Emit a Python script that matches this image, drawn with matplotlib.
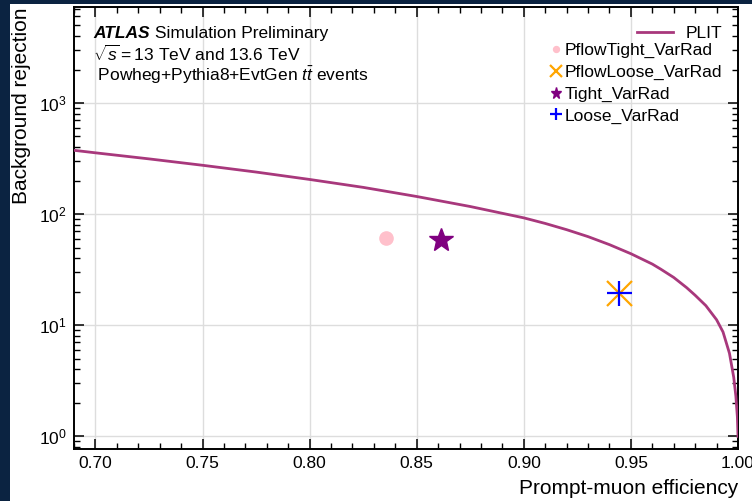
import matplotlib
matplotlib.use('Agg')
import matplotlib.pyplot as plt
from matplotlib.patches import Rectangle
from matplotlib.ticker import MultipleLocator, LogLocator

plt.rcParams['font.family'] = ['Liberation Sans', 'DejaVu Sans']
plt.rcParams['mathtext.fontset'] = 'custom'
plt.rcParams['mathtext.rm'] = 'Liberation Sans'
plt.rcParams['mathtext.it'] = 'Liberation Sans:italic'
plt.rcParams['mathtext.bf'] = 'Liberation Sans:bold'

# PLIT curve: prompt-muon efficiency vs background rejection
plit_eff = [0.69, 0.70, 0.725, 0.75, 0.775, 0.80, 0.825, 0.85, 0.875, 0.90,
            0.91, 0.92, 0.93, 0.94, 0.95, 0.96, 0.964, 0.97, 0.976, 0.98,
            0.985, 0.99, 0.993, 0.996, 0.998, 0.999, 0.9997, 1.0]
plit_rej = [375, 356, 314, 275, 239, 205, 174, 144, 117, 92.5,
            82.4, 72.4, 62.7, 53.1, 44.0, 35.5, 31.9, 26.9, 21.8, 18.6,
            15.0, 11.2, 8.7, 5.6, 3.4, 2.3, 1.5, 1.0]

# working points of the cut-based isolation
wp_names = ['PflowTight_VarRad', 'PflowLoose_VarRad', 'Tight_VarRad', 'Loose_VarRad']
wp_eff = [0.8357, 0.9445, 0.8614, 0.9445]
wp_rej = [61.3, 19.4, 58.0, 19.4]

navy = '#0b2341'

fig = plt.figure(figsize=(7.52, 5.01), dpi=100)
ax = fig.add_axes([0.0984, 0.1038, 0.883, 0.8822])

# dark frame strips on the left and top
fig.add_artist(Rectangle((0, 0), 10 / 752, 1, transform=fig.transFigure,
                         facecolor=navy, edgecolor='none', zorder=0))
fig.add_artist(Rectangle((0, 1 - 4 / 501), 1, 4 / 501, transform=fig.transFigure,
                         facecolor=navy, edgecolor='none', zorder=0))

line, = ax.plot(plit_eff, plit_rej, color='#a8387c', lw=2.0, label='PLIT', zorder=3)

m1, = ax.plot(wp_eff[0], wp_rej[0], 'o', color='pink', ms=9.5, ls='none', label=wp_names[0], zorder=4)
m2, = ax.plot(wp_eff[1], wp_rej[1], 'x', color='orange', ms=18, mew=1.6, ls='none', label=wp_names[1], zorder=4)
m3, = ax.plot(wp_eff[2], wp_rej[2], '*', color='purple', ms=18, ls='none', label=wp_names[2], zorder=4)
m4, = ax.plot(wp_eff[3], wp_rej[3], '+', color='blue', ms=18, mew=1.6, ls='none', label=wp_names[3], zorder=5)

ax.set_yscale('log')
ax.set_xlim(0.69, 1.0)
ax.set_ylim(0.77, 7300)

ax.xaxis.set_major_locator(MultipleLocator(0.05))
ax.xaxis.set_minor_locator(MultipleLocator(0.01))
ax.yaxis.set_major_locator(LogLocator(base=10))
ax.yaxis.set_minor_locator(LogLocator(base=10, subs=range(2, 10)))
ax.xaxis.set_major_formatter(plt.FuncFormatter(lambda v, p: f'{v:.2f}'))

ax.tick_params(which='both', direction='in', top=True, right=True, labelsize=12.5)
ax.tick_params(which='major', length=7.2, width=1.1, pad=5)
ax.tick_params(which='minor', length=4.3, width=1.0)
for s in ax.spines.values():
    s.set_linewidth(1.4)

ax.grid(True, which='major', color='#dddddd', lw=1.0, zorder=0)
ax.set_axisbelow(True)

ax.set_xlabel('Prompt-muon efficiency', fontsize=15, loc='right', labelpad=6)
ax.set_ylabel('Background rejection', fontsize=15, loc='top', labelpad=6)

# ATLAS label block
t1 = ax.text(0.0286, 0.9295, 'ATLAS', transform=ax.transAxes, fontsize=12.5,
             fontweight='bold', fontstyle='italic', va='baseline')
ax.annotate(' Simulation Preliminary', xy=(1, 0), xycoords=t1, fontsize=12.5,
            va='bottom')
ax.text(0.0286, 0.877, r'$\sqrt{s}=13$ TeV and 13.6 TeV', transform=ax.transAxes,
        fontsize=12.5, va='baseline')
ax.text(0.0286, 0.833, r' Powheg+Pythia8+EvtGen $t\bar{t}$ events', transform=ax.transAxes,
        fontsize=12.5, va='baseline')

leg1 = ax.legend(handles=[line], loc='upper right', bbox_to_anchor=(0.986, 0.974),
                 frameon=False, fontsize=12.5, handlelength=2.1, handletextpad=0.7,
                 borderaxespad=0)
ax.add_artist(leg1)
ax.legend(handles=[m1, m2, m3, m4], loc='upper right', bbox_to_anchor=(0.986, 0.934),
          frameon=False, fontsize=12.5, handlelength=0, handletextpad=0.45,
          labelspacing=0.37, markerscale=0.45, borderaxespad=0)

fig.savefig('out.png', dpi=100)
